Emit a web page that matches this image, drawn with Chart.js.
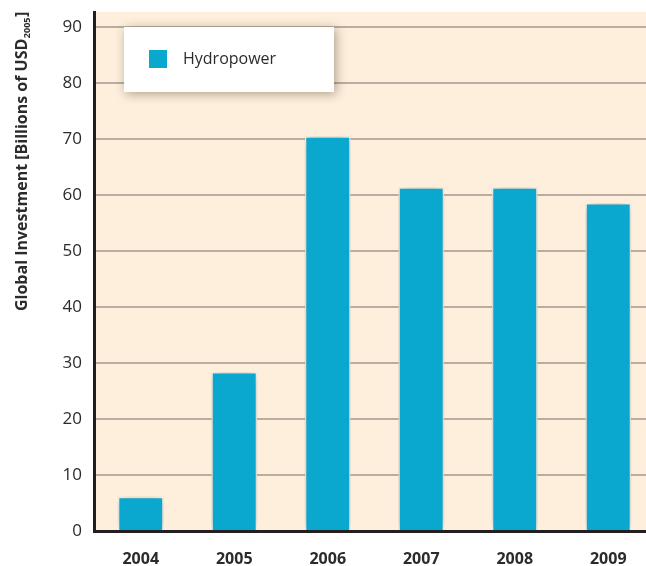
<!DOCTYPE html>
<html>
<head>
<meta charset="utf-8">
<script src="https://cdn.jsdelivr.net/npm/chart.js@4"></script>
<style>
  html, body { margin: 0; padding: 0; background: #fff; }
  #wrap { width: 646px; height: 566px; overflow: hidden; }
  #hydro-chart { display: block; }
</style>
</head>
<body>
<div id="wrap"><canvas id="hydro-chart" width="655" height="566"></canvas></div>
<script>
const years = ['2004', '2005', '2006', '2007', '2008', '2009'];
const hydropower = [6.1, 28.4, 70.5, 61.4, 61.4, 58.6];
const yTicks = [0, 10, 20, 30, 40, 50, 60, 70, 80, 90];

const barBlue = '#0aa8cf';
const font = '"Open Sans", "Noto Sans", sans-serif';

// cream panel behind the plot
const panelBg = {
  id: 'panelBg',
  beforeDraw(chart) {
    const { ctx, chartArea: a } = chart;
    ctx.save();
    ctx.fillStyle = '#fdefdc';
    ctx.fillRect(a.left, a.top, a.right - a.left, a.bottom - a.top);
    ctx.restore();
  }
};

// soft shadow round the bars
const barShadow = {
  id: 'barShadow',
  beforeDatasetsDraw(chart) {
    const ctx = chart.ctx;
    ctx.save();
    ctx.shadowColor = 'rgba(110, 80, 50, 0.45)';
    ctx.shadowBlur = 14;
  },
  afterDatasetsDraw(chart) {
    chart.ctx.restore();
  }
};

// legend box and y title with subscript
const extras = {
  id: 'extras',
  afterDraw(chart) {
    const ctx = chart.ctx;
    ctx.save();
    ctx.shadowColor = 'rgba(60, 40, 20, 0.4)';
    ctx.shadowBlur = 10;
    ctx.shadowOffsetX = 2;
    ctx.shadowOffsetY = 2;
    ctx.fillStyle = '#fff';
    ctx.fillRect(124, 27, 210, 65);
    ctx.restore();

    ctx.save();
    ctx.fillStyle = barBlue;
    ctx.fillRect(149, 50, 18, 18);
    ctx.fillStyle = '#2b2b2b';
    ctx.font = '16px ' + font;
    ctx.textBaseline = 'middle';
    ctx.fillText(chart.data.datasets[0].label, 183, 59);
    ctx.restore();

    // rotated title
    ctx.save();
    ctx.translate(27, 311);
    ctx.rotate(-Math.PI / 2);
    ctx.fillStyle = '#2b2b2b';
    ctx.textBaseline = 'alphabetic';
    const main = 'Global Investment [Billions of USD';
    ctx.font = 'bold 16px ' + font;
    ctx.fillText(main, 0, 0);
    let x = ctx.measureText(main).width;
    ctx.font = 'bold 9px ' + font;
    ctx.fillText('2005', x + 0.5, 3);
    x += ctx.measureText('2005').width + 1;
    ctx.font = 'bold 16px ' + font;
    ctx.fillText(']', x, 0);
    ctx.restore();
  }
};

new Chart(document.getElementById('hydro-chart').getContext('2d'), {
  type: 'bar',
  data: {
    labels: years,
    datasets: [{
      label: 'Hydropower',
      data: hydropower,
      backgroundColor: barBlue,
      borderColor: '#ffffff',
      borderWidth: 1.5,
      categoryPercentage: 1,
      barPercentage: 0.49
    }]
  },
  options: {
    responsive: false,
    animation: false,
    layout: { padding: { top: 12, right: 0, left: 0, bottom: 0 } },
    plugins: {
      legend: { display: false },
      tooltip: { enabled: false }
    },
    scales: {
      x: {
        grid: { display: false },
        border: { color: '#231f20', width: 3 },
        ticks: {
          color: '#2b2b2b',
          padding: 11,
          font: { family: font, size: 16, weight: 'bold' }
        },
        afterFit(s) { s.height = 35; s.paddingLeft = 0; s.paddingRight = 0; }
      },
      y: {
        min: 0,
        max: 92.7,
        afterBuildTicks(s) { s.ticks = yTicks.map(v => ({ value: v })); },
        grid: { color: '#b8ada0', lineWidth: 2, drawTicks: false },
        border: { color: '#231f20', width: 3 },
        ticks: {
          color: '#2b2b2b',
          padding: 12,
          font: { family: font, size: 17 }
        },
        afterFit(s) { s.width = 94; s.paddingTop = 0; s.paddingBottom = 0; }
      }
    }
  },
  plugins: [panelBg, barShadow, extras]
});
</script>
</body>
</html>
